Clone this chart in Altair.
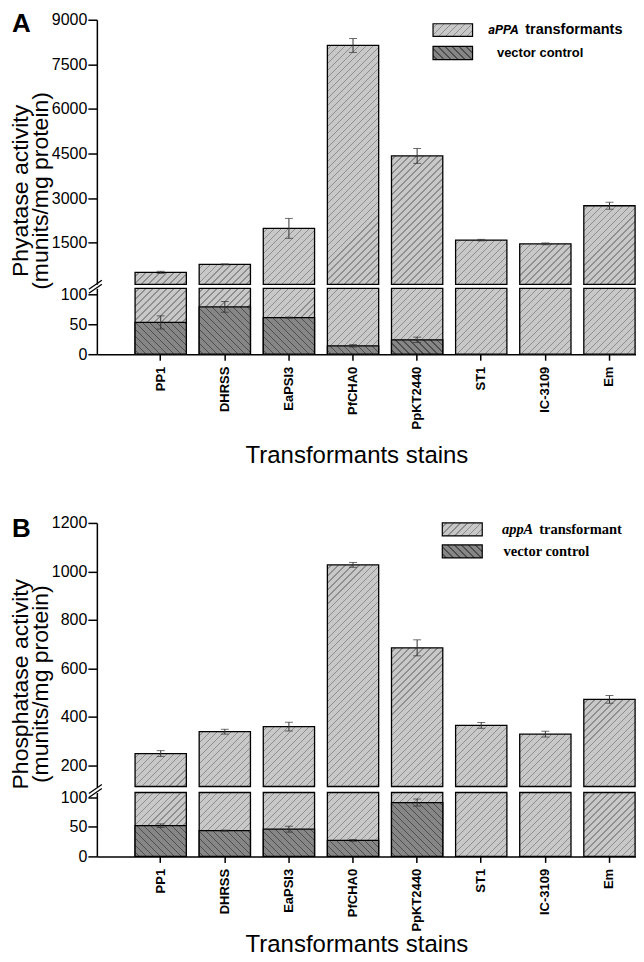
import altair as alt
import pandas as pd

# ---------------- data ----------------
strains = ["PP1", "DHRSS", "EaPSI3", "PfCHA0", "PpKT2440", "ST1", "IC-3109", "Em"]
vector_strains = ["PP1", "DHRSS", "EaPSI3", "PfCHA0", "PpKT2440"]

phy_trans = [506, 775, 1985, 8135, 4420, 1590, 1465, 2745]
phy_trans_err = [35, 15, 335, 235, 250, 25, 30, 115]
phy_vec = [53, 79, 61, 14, 24]
phy_vec_err = [11, 9, 1, 2, 4.5]

pho_trans = [249, 339, 360, 1027, 685, 365, 329, 472]
pho_trans_err = [12, 10, 18, 10, 33, 12, 12, 16]
pho_vec = [52, 43.5, 46, 27, 91]
pho_vec_err = [3, 1, 5, 1.5, 6]

ticks_A_upper = [1500, 3000, 4500, 6000, 7500, 9000]
ticks_B_upper = [200, 400, 600, 800, 1000, 1200]
ticks_lower = [0, 50, 100]

# ---------------- layout / style ----------------
W = 540
PI, PO, ALIGN = 0.2, 0.305, 0.977
STEP = W / (len(strains) - PI + 2 * PO)
BW = STEP * (1 - PI)

LIGHT_BASE, LIGHT_LINE = "#c8c8c8", "#8e8e8e"
DARK_BASE, DARK_LINE = "#868686", "#4e4e4e"
ERR = "#333333"
SANS = "Liberation Sans"
SANS_IT = "Roboto"
SERIF = "Liberation Serif"
NOVIEW = alt.ViewBackground(stroke="transparent", strokeWidth=0)


def hatch(w, h, base, line, direction, period=7.0, lw=1.3):
    h = max(h, 0.5)
    L = w + h
    a = w * L / (w * w + h * h)
    b = h * L / (w * w + h * h)
    if direction == "up":
        x1, y1, x2, y2 = 0, 0, a, b
    else:
        x1, y1, x2, y2 = 0, 1, a, 1 - b
    stops = [{"offset": 0, "color": base}]
    pos = period / 2
    while pos + lw < L:
        o1, o2 = pos / L, (pos + lw) / L
        stops += [{"offset": o1, "color": base}, {"offset": o1, "color": line},
                  {"offset": o2, "color": line}, {"offset": o2, "color": base}]
        pos += period
    stops.append({"offset": 1, "color": base})
    return {"gradient": "linear", "x1": x1, "y1": y1, "x2": x2, "y2": y2, "stops": stops}


def records(names, vals, errs, dom, H, base, line, direction):
    out = []
    for n, v, e in zip(names, vals, errs):
        h = H * (min(v, dom[1]) - max(dom[0], 0)) / (dom[1] - dom[0])
        out.append({"strain": n, "value": v, "lo": v - e, "hi": v + e,
                    "grad": hatch(BW, h, base, line, direction)})
    return out


one = pd.DataFrame({"k": [0]})
xscale = alt.Scale(domain=strains, paddingInner=PI, paddingOuter=PO, align=ALIGN)


def errbars(recs, yscale, axis, xenc):
    d = alt.Data(values=recs)
    rule = alt.Chart(d).mark_rule(color=ERR, strokeWidth=1).encode(
        x=xenc, y=alt.Y("lo:Q", scale=yscale, axis=axis), y2="hi:Q")
    lo = alt.Chart(d).mark_tick(color=ERR, size=8, thickness=1).encode(
        x=xenc, y=alt.Y("lo:Q", scale=yscale, axis=axis))
    hi = alt.Chart(d).mark_tick(color=ERR, size=8, thickness=1).encode(
        x=xenc, y=alt.Y("hi:Q", scale=yscale, axis=axis))
    return [rule, lo, hi]


def text(t, x, y, size, font=SANS, weight="bold", style="normal", baseline="middle"):
    return alt.Chart(one).mark_text(text=t, font=font, fontSize=size, fontWeight=weight,
                                    fontStyle=style, align="left", baseline=baseline,
                                    color="black").encode(x=alt.value(x), y=alt.value(y))


def swatch(x0, x1, y0, y1, base, line, direction):
    g = hatch(x1 - x0, y1 - y0, base, line, direction)
    return alt.Chart(one).mark_rect(fill=g, stroke="black", strokeWidth=1.2).encode(
        x=alt.value(x0), x2=alt.value(x1), y=alt.value(y0), y2=alt.value(y1))


def yaxis(values, title=None, titleY=0):
    kw = dict(values=values, format="d", labelFont=SANS, labelFontSize=16, labelColor="black",
              labelPadding=1, tickSize=9, tickColor="black", tickWidth=1.5,
              domainColor="black", domainWidth=1.5, grid=False)
    if title is not None:
        kw.update(title=title, titleFont=SANS, titleFontSize=23, titleFontWeight="normal",
                  titleColor="black", titleLineHeight=20, titleX=-64, titleY=titleY,
                  titleAngle=270, titleAlign="center", titleBaseline="bottom")
    else:
        kw.update(title=None)
    return alt.Axis(**kw)


def spacer(h):
    return alt.Chart(one).mark_rect(opacity=0).encode(
        x=alt.value(0), x2=alt.value(1), y=alt.value(0), y2=alt.value(1)
    ).properties(width=W, height=h, view=NOVIEW)


def panel(letter, trans, trans_err, vec, vec_err, dom_u, hu, ticks_u, title, titleY,
          hl, dom_l, gap, xtitleY, legend):
    xenc_none = alt.X("strain:N", scale=xscale, axis=None)
    ys_u = alt.Scale(domain=dom_u, clamp=True, nice=False, zero=False)
    ax_u = yaxis(ticks_u, title, titleY)
    recs_u = records(strains, trans, trans_err, dom_u, hu, LIGHT_BASE, LIGHT_LINE, "up")
    bars_u = alt.Chart(alt.Data(values=recs_u)).mark_bar(stroke="black", strokeWidth=1.3).encode(
        x=xenc_none, y=alt.Y("value:Q", scale=ys_u, axis=ax_u), y2=alt.datum(0),
        fill=alt.Fill("grad:N", scale=None))
    upper = alt.layer(bars_u, *errbars(recs_u, ys_u, ax_u, xenc_none),
                      text(letter, -85, legend["letterY"], 26, baseline="alphabetic"),
                      *legend["marks"]).properties(width=W, height=hu, view=NOVIEW)

    xaxis = alt.Axis(title="Transformants stains", titleFont=SANS, titleFontSize=24,
                     titleFontWeight="normal", titleColor="black", titleX=260, titleY=xtitleY,
                     titleBaseline="alphabetic", titleAlign="center",
                     labelAngle=270, labelFont=SANS, labelFontSize=13, labelFontWeight="bold",
                     labelColor="black", labelPadding=6, tickSize=6, tickColor="black",
                     tickWidth=1.5, domainColor="black", domainWidth=1.5, grid=False)
    xenc = alt.X("strain:N", scale=xscale, axis=xaxis)
    ys_l = alt.Scale(domain=dom_l, clamp=True, nice=False, zero=False)
    ax_l = yaxis(ticks_lower)
    recs_lt = records(strains, trans, trans_err, dom_l, hl, LIGHT_BASE, LIGHT_LINE, "up")
    recs_lv = records(vector_strains, vec, vec_err, dom_l, hl, DARK_BASE, DARK_LINE, "down")
    bars_lt = alt.Chart(alt.Data(values=recs_lt)).mark_bar(stroke="black", strokeWidth=1.3).encode(
        x=xenc, y=alt.Y("value:Q", scale=ys_l, axis=ax_l), y2=alt.datum(0),
        fill=alt.Fill("grad:N", scale=None))
    bars_lv = alt.Chart(alt.Data(values=recs_lv)).mark_bar(stroke="black", strokeWidth=1.3).encode(
        x=xenc, y=alt.Y("value:Q", scale=ys_l, axis=ax_l), y2=alt.datum(0),
        fill=alt.Fill("grad:N", scale=None))
    slash1 = alt.Chart(one).mark_rule(color="black", strokeWidth=1.3).encode(
        x=alt.value(-8), x2=alt.value(5), y=alt.value(1), y2=alt.value(-8))
    slash2 = alt.Chart(one).mark_rule(color="black", strokeWidth=1.3).encode(
        x=alt.value(-8), x2=alt.value(5), y=alt.value(5), y2=alt.value(-4))
    lower = alt.layer(bars_lt, bars_lv, *errbars(recs_lv, ys_l, ax_l, xenc),
                      slash1, slash2).properties(width=W, height=hl, view=NOVIEW)
    return upper, spacer(gap), lower


legendA = {"letterY": 12.4, "marks": [
    swatch(336.7, 376.3, 4, 16.7, LIGHT_BASE, LIGHT_LINE, "up"),
    swatch(336.7, 376.3, 26.7, 40, DARK_BASE, DARK_LINE, "down"),
    text("aPPA", 392, 10.6, 13, font=SANS_IT, style="italic"),
    text("transformants", 429, 10.6, 14.5),
    text("vector control", 400.7, 33.6, 13),
]}
legendB = {"letterY": 14, "marks": [
    swatch(346, 386, 0, 13, LIGHT_BASE, LIGHT_LINE, "up"),
    swatch(346, 386, 22, 35, DARK_BASE, DARK_LINE, "down"),
    text("appA", 405.7, 6.8, 14.5, font=SERIF, style="italic"),
    text("transformant", 443, 6.8, 14.5, font=SERIF),
    text("vector control", 407.3, 28.8, 14.5, font=SERIF),
]}

Au, gA, Al = panel("A", phy_trans, phy_trans_err, phy_vec, phy_vec_err, [104, 9000], 265,
                   ticks_A_upper, ["Phyatase activity", "(munits/mg protein)"], 171,
                   66, [0, 110], 4, 108, legendA)
Bu, gB, Bl = panel("B", pho_trans, pho_trans_err, pho_vec, pho_vec_err, [113, 1200], 264,
                   ticks_B_upper, ["Phosphatase activity", "(munits/mg protein)"], 161,
                   64, [0, 108], 6, 95, legendB)

chart = alt.vconcat(Au, gA, Al, spacer(168.4), Bu, gB, Bl, spacing=0, bounds="flush").properties(
    padding={"left": 2, "top": 2, "right": 0, "bottom": 0}
).configure_view(stroke="transparent", strokeWidth=0).configure(background="white")

chart.save("out.html", embed_options={"renderer": "svg", "actions": False})
